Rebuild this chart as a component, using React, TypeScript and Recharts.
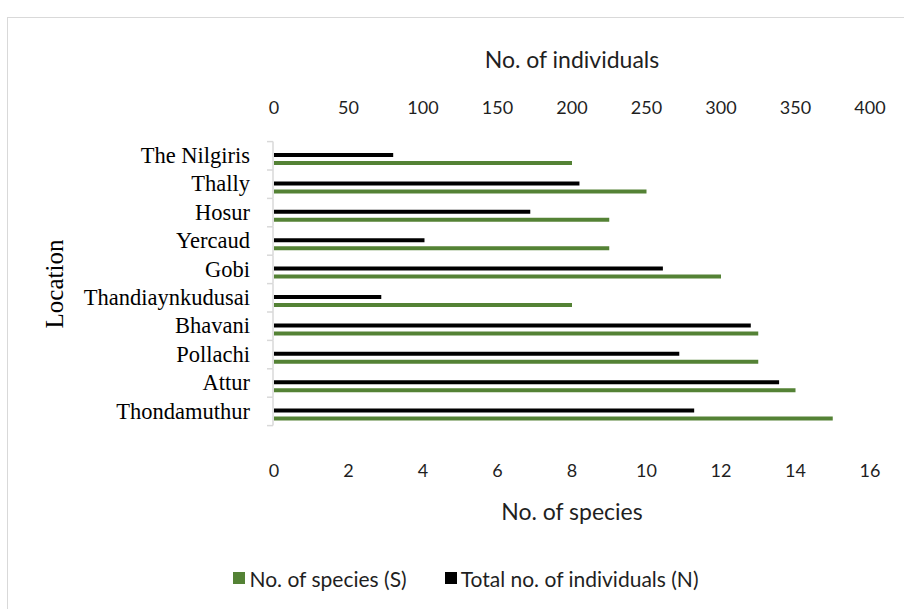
import { BarChart, Bar, XAxis, YAxis, Label } from "recharts";

const LOCATIONS = [
  "The Nilgiris",
  "Thally",
  "Hosur",
  "Yercaud",
  "Gobi",
  "Thandiaynkudusai",
  "Bhavani",
  "Pollachi",
  "Attur",
  "Thondamuthur",
];
const SPECIES = [8, 10, 9, 9, 12, 8, 13, 13, 14, 15];
const INDIVIDUALS = [80, 205, 172, 101, 261, 72, 320, 272, 339, 282];

const SPECIES_TICKS = [0, 2, 4, 6, 8, 10, 12, 14, 16];
const INDIVIDUAL_TICKS = [0, 50, 100, 150, 200, 250, 300, 350, 400];

const SERIES = [
  { key: "species", name: "No. of species (S)", color: "#548235" },
  { key: "individuals", name: "Total no. of individuals (N)", color: "#000000" },
];

const data = LOCATIONS.map((location, i) => ({
  location,
  species: SPECIES[i],
  individuals: INDIVIDUALS[i],
}));

const SANS = "Lato, 'Open Sans', sans-serif";
const SERIF = "'Liberation Serif', 'Times New Roman', serif";
const AXIS_GRAY = "#d9d9d9";
const TEXT = "#1f1f1f";

// plot geometry (chart margins + axis sizes)
const TOP_AXIS_H = 145;
const BOTTOM_AXIS_H = 100;
const PLOT_H = 284;
const CHART_H = 609;
const HALF_BAND = PLOT_H / LOCATIONS.length / 2;
const Y_TICK_SIZE = 6;
const Y_TICK_MARGIN = 18;
// excel draws the category axis a bit above the bar groups
const AXIS_SHIFT = -3.4;
const LABEL_SHIFT = -3.8;

function CategoryTick(props: any) {
  const { x, y, payload, index, visibleTicksCount } = props;
  const axisX = x + Y_TICK_SIZE + Y_TICK_MARGIN - 1;
  const top = y - HALF_BAND + AXIS_SHIFT;
  const bottom = y + HALF_BAND + AXIS_SHIFT;
  return (
    <g>
      <line x1={axisX} x2={axisX} y1={top} y2={bottom} stroke={AXIS_GRAY} strokeWidth={1.5} />
      <line x1={axisX - Y_TICK_SIZE} x2={axisX} y1={top} y2={top} stroke={AXIS_GRAY} strokeWidth={1.5} />
      {index === visibleTicksCount - 1 && (
        <line x1={axisX - Y_TICK_SIZE} x2={axisX} y1={bottom} y2={bottom} stroke={AXIS_GRAY} strokeWidth={1.5} />
      )}
      <text
        x={x}
        y={y + LABEL_SHIFT}
        textAnchor="end"
        dominantBaseline="central"
        fill="#000"
        fontSize={22.5}
        fontFamily={SERIF}
      >
        {payload.value}
      </text>
    </g>
  );
}

function LocationLabel({ viewBox }: any) {
  const cx = viewBox.x + 54;
  const cy = viewBox.y + viewBox.height / 2 - 3;
  return (
    <text
      x={cx}
      y={cy}
      transform={`rotate(-90, ${cx}, ${cy})`}
      textAnchor="middle"
      dominantBaseline="central"
      fill="#000"
      fontSize={25}
      fontFamily={SERIF}
    >
      Location
    </text>
  );
}

export default function App() {
  const ordered = [SERIES[1], SERIES[0]]; // black bar sits above the green one
  return (
    <div
      style={{
        position: "absolute",
        left: 0,
        top: 0,
        width: 904,
        height: 609,
        background: "#fff",
        overflow: "hidden",
      }}
    >
      <div
        style={{
          position: "absolute",
          left: 7,
          top: 17,
          width: 960,
          height: 660,
          border: `1px solid ${AXIS_GRAY}`,
        }}
      />
      <BarChart
        width={904}
        height={CHART_H}
        data={data}
        layout="vertical"
        margin={{ top: 0, right: 34, left: 0, bottom: CHART_H - TOP_AXIS_H - PLOT_H - BOTTOM_AXIS_H }}
        barSize={4}
        barGap={4}
        style={{ position: "absolute", left: 0, top: 0 }}
      >
        <XAxis
          xAxisId="ind"
          type="number"
          orientation="top"
          domain={[0, 400]}
          ticks={INDIVIDUAL_TICKS}
          height={TOP_AXIS_H}
          axisLine={false}
          tickLine={false}
          tickSize={0}
          tickMargin={31}
          tick={{ fill: TEXT, fontSize: 18, fontFamily: SANS }}
        >
          <Label
            value="No. of individuals"
            position="insideTop"
            offset={52}
            fill={TEXT}
            fontSize={23}
            fontFamily={SANS}
          />
        </XAxis>
        <XAxis
          xAxisId="sp"
          type="number"
          orientation="bottom"
          domain={[0, 16]}
          ticks={SPECIES_TICKS}
          height={BOTTOM_AXIS_H}
          axisLine={false}
          tickLine={false}
          tickSize={0}
          tickMargin={35}
          tick={{ fill: TEXT, fontSize: 18, fontFamily: SANS }}
        >
          <Label
            value="No. of species"
            position="insideBottom"
            offset={9}
            fill={TEXT}
            fontSize={23}
            fontFamily={SANS}
          />
        </XAxis>
        <YAxis
          type="category"
          dataKey="location"
          width={274}
          interval={0}
          axisLine={false}
          tickLine={false}
          tickSize={Y_TICK_SIZE}
          tickMargin={Y_TICK_MARGIN}
          tick={<CategoryTick />}
          label={<LocationLabel />}
        />
        {ordered.map((s) => (
          <Bar
            key={s.key}
            dataKey={s.key}
            name={s.name}
            xAxisId={s.key === "species" ? "sp" : "ind"}
            fill={s.color}
            isAnimationActive={false}
          />
        ))}
      </BarChart>

      {/* Legend */}
      <div
        style={{
          position: "absolute",
          left: 0,
          top: 566,
          width: 932,
          height: 24,
          display: "flex",
          justifyContent: "center",
          alignItems: "center",
          gap: 38,
          fontFamily: SANS,
          fontSize: 21,
          color: TEXT,
        }}
      >
        {SERIES.map((s) => (
          <div key={s.key} style={{ display: "flex", alignItems: "center", gap: 4 }}>
            <span style={{ width: 12, height: 12, background: s.color, display: "inline-block" }} />
            <span>{s.name}</span>
          </div>
        ))}
      </div>
    </div>
  );
}
